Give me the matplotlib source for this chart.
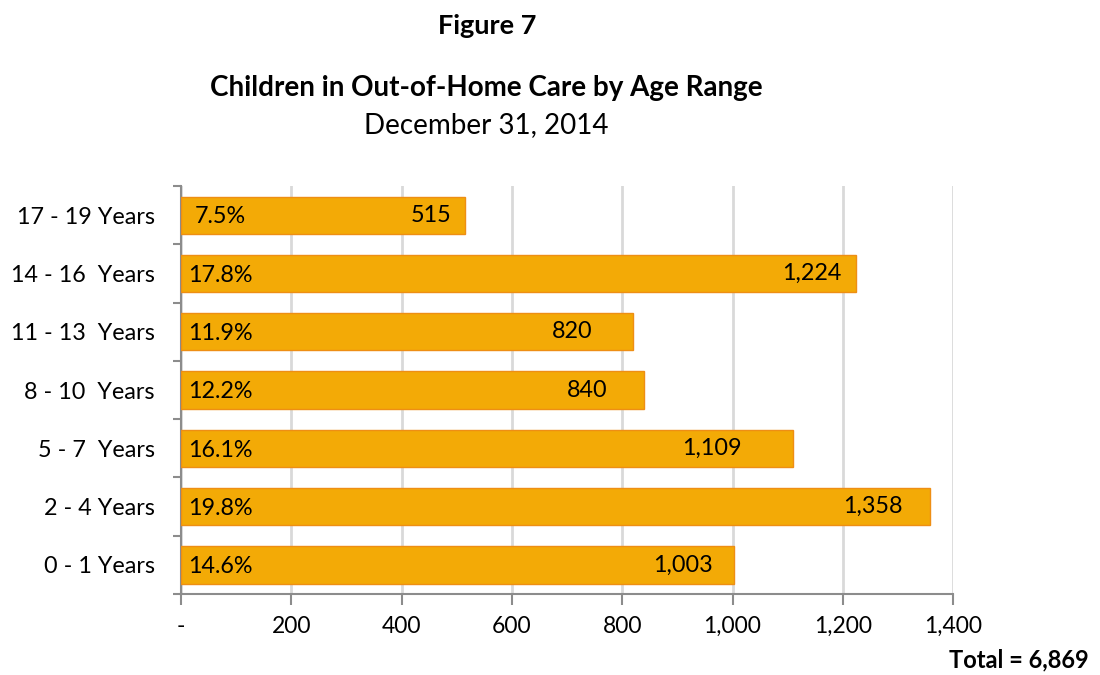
import matplotlib
matplotlib.use("Agg")
import matplotlib.pyplot as plt
import numpy as np
from matplotlib.ticker import FuncFormatter

# data (bottom to top)
age_ranges = ["0 - 1 Years", "2 - 4 Years", "5 - 7  Years", "8 - 10  Years",
              "11 - 13  Years", "14 - 16  Years", "17 - 19 Years"]
counts = [1003, 1358, 1109, 840, 820, 1224, 515]
shares = ["14.6%", "19.8%", "16.1%", "12.2%", "11.9%", "17.8%", "7.5%"]
total_label = "Total = 6,869"

# where the count labels sit, as distance back from the bar end (data units)
count_label_back = [93, 103, 146, 104, 111, 80, 62]

plt.rcParams["font.family"] = ["Lato", "DejaVu Sans"]

BAR = "#F3AA06"
EDGE = "#EE8E14"
GRID = "#D9D9D9"
AXIS = "#8C8C8C"

fig = plt.figure(figsize=(11, 6.75), dpi=100, facecolor="white")
ax = fig.add_axes([0.1645, 0.12, 0.702, 0.6044])

y = np.arange(len(age_ranges))
ax.barh(y, counts, height=0.64, color=BAR, edgecolor=EDGE, linewidth=1.0, zorder=3)

for yi, c, s, back in zip(y, counts, shares, count_label_back):
    ax.text(71, yi - 0.03, s, ha="center", va="center", fontsize=16.8, zorder=4)
    ax.text(c - back, yi, f"{c:,}", ha="center", va="center", fontsize=16.8, zorder=4)

ax.set_xlim(0, 1400)
ax.set_ylim(-0.5, len(age_ranges) - 0.5)
ax.set_xticks(np.arange(0, 1401, 200))
ax.xaxis.set_major_formatter(FuncFormatter(lambda v, p: "-" if v == 0 else f"{v:,.0f}"))
ax.grid(axis="x", color=GRID, linewidth=2, zorder=0)

# category labels centred, tick marks on the boundaries
ax.set_yticks(np.arange(-0.5, len(age_ranges), 1.0))
ax.set_yticklabels([])
ax.set_yticks(y, minor=True)
ax.set_yticklabels(age_ranges, minor=True, fontsize=16.8)
ax.tick_params(axis="y", which="minor", length=0, pad=19)
ax.tick_params(axis="y", which="major", length=6, width=1.5, color=AXIS)
ax.tick_params(axis="x", length=8, width=1.5, color=AXIS, labelsize=16.5, pad=8)

for side in ("top", "right"):
    ax.spines[side].set_visible(False)
for side in ("left", "bottom"):
    ax.spines[side].set_color(AXIS)
    ax.spines[side].set_linewidth(1.5)

fig.text(0.4425, 0.962, "Figure 7", ha="center", va="center", fontsize=19.5, fontweight="bold")
fig.text(0.4425, 0.869, "Children in Out-of-Home Care by Age Range", ha="center",
         va="center", fontsize=20, fontweight="bold")
fig.text(0.4425, 0.815, "December 31, 2014", ha="center", va="center", fontsize=20)
fig.text(0.99, 0.006, total_label, ha="right", va="bottom", fontsize=17, fontweight="bold")

fig.savefig("out.png", dpi=100, facecolor="white")
